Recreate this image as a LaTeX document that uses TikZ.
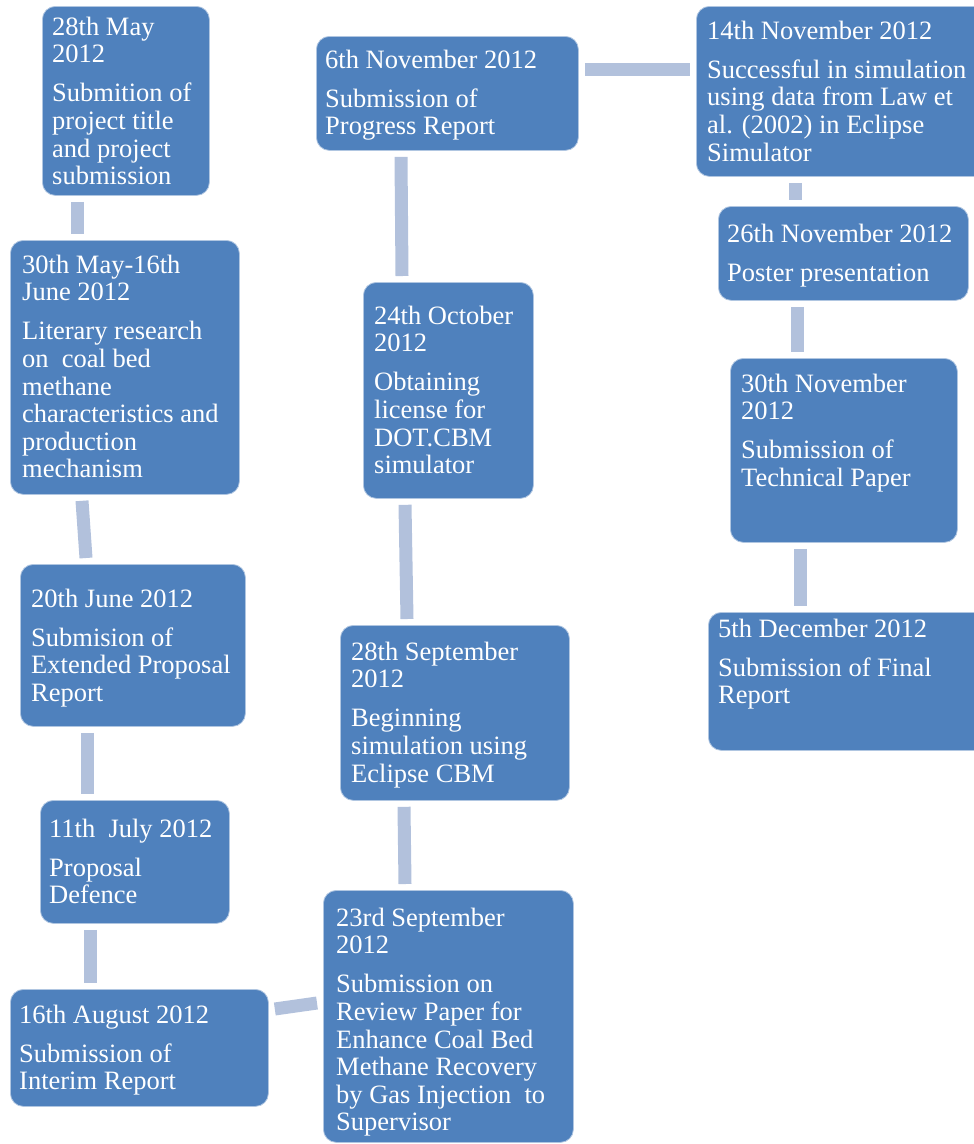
\documentclass[tikz,border=0pt]{standalone}
\usepackage{fontspec}
\setmainfont{Liberation Serif}
\definecolor{boxblue}{RGB}{79,129,189}
\definecolor{linkblue}{RGB}{178,193,220}

\begin{document}
\begin{tikzpicture}[x=1pt,y=-1pt,
  stage/.style={fill=boxblue, draw=white!55!boxblue, line width=0.8pt,
    rounded corners=13pt, anchor=north west, inner sep=0pt},
  stagetext/.style={anchor=north west, inner sep=0pt, align=left,
    text=white, font=\fontsize{26.5}{27.6}\selectfont},
  link/.style={draw=linkblue, line width=13pt}]
  \useasboundingbox (0,0) rectangle (974,1144);

  %Left column
  \node[stage, minimum width=167pt, minimum height=189pt] (may28) at (42,6) {};
  \node[stage, minimum width=229pt, minimum height=254pt] (jun16) at (10,240) {};
  \node[stage, minimum width=225pt, minimum height=162pt] (jun20) at (20,564) {};
  \node[stage, minimum width=189pt, minimum height=123pt] (jul11) at (40,800) {};
  \node[stage, minimum width=258pt, minimum height=117pt] (aug16) at (10,989) {};

  %Middle column
  \node[stage, minimum width=250pt, minimum height=252pt] (sep23) at (323,890) {};
  \node[stage, minimum width=229pt, minimum height=175pt] (sep28) at (340,625) {};
  \node[stage, minimum width=170pt, minimum height=216pt] (oct24) at (363,282) {};
  \node[stage, minimum width=262pt, minimum height=114pt] (nov6) at (316,36) {};

  %Right column
  \node[stage, minimum width=300pt, minimum height=170pt] (nov14) at (696,6) {};
  \node[stage, minimum width=250pt, minimum height=94pt] (nov26) at (718,206) {};
  \node[stage, minimum width=227pt, minimum height=184pt] (nov30) at (730,358) {};
  \node[stage, minimum width=300pt, minimum height=138pt] (dec5) at (708,612) {};

  %Texts
  \node[stagetext] (may28txt) at (52,15.7) {\strut 28th May\\2012\\[11.4pt]
    Submition of\\project title\\and project\\submission};
  \node[stagetext] (jun16txt) at (22,253.7) {\strut 30th May-16th\\June 2012\\[11.4pt]
    Literary research\\on\ \ coal bed\\methane\\characteristics and\\production\\mechanism};
  \node[stagetext] (jun20txt) at (31,587.7) {\strut 20th June 2012\\[11.4pt]
    Submision of\\Extended Proposal\\Report};
  \node[stagetext] (jul11txt) at (49,817.7) {\strut 11th\ \ July 2012\\[11.4pt]
    Proposal\\Defence};
  \node[stagetext] (aug16txt) at (19,1003.7) {\strut 16th August 2012\\[11.4pt]
    Submission of\\Interim Report};
  \node[stagetext] (sep23txt) at (336,906.7) {\strut 23rd September\\2012\\[11.4pt]
    Submission on\\Review Paper for\\Enhance Coal Bed\\Methane Recovery\\by Gas Injection\ \ to\\Supervisor};
  \node[stagetext] (sep28txt) at (351,640.7) {\strut 28th September\\2012\\[11.4pt]
    Beginning\\simulation using\\Eclipse CBM};
  \node[stagetext] (oct24txt) at (374,304.7) {\strut 24th October\\2012\\[11.4pt]
    Obtaining\\license for\\DOT.CBM\\simulator};
  \node[stagetext] (nov6txt) at (325,48.7) {\strut 6th November 2012\\[11.4pt]
    Submission of\\Progress Report};
  \node[stagetext] (nov14txt) at (707,19.7) {\strut 14th November 2012\\[11.4pt]
    Successful in simulation\\using data from Law et\\al. (2002) in Eclipse\\Simulator};
  \node[stagetext] (nov26txt) at (727,222.7) {\strut 26th November 2012\\[11.4pt]
    Poster presentation};
  \node[stagetext] (nov30txt) at (741,372.7) {\strut 30th November\\2012\\[11.4pt]
    Submission of\\Technical Paper};
  \node[stagetext] (dec5txt) at (718,617.7) {\strut 5th December 2012\\[11.4pt]
    Submission of Final\\Report};

  %Links
  \draw[link] ([shift={(35.5,6)}]may28.south west) -- ([shift={(67.5,-6)}]jun16.north west);
  \draw[link] ([shift={(72,6)}]jun16.south west) -- ([shift={(66,-6)}]jun20.north west);
  \draw[link] ([shift={(67,6)}]jun20.south west) -- ([shift={(47,-6)}]jul11.north west);
  \draw[link] ([shift={(50,6)}]jul11.south west) -- ([shift={(80,-6)}]aug16.north west);
  \draw[link] ([shift={(6,20)}]aug16.north east) -- ([shift={(-6,113)}]sep23.north west);
  \draw[link] ([shift={(82,-6)}]sep23.north west) -- ([shift={(64,6)}]sep28.south west);
  \draw[link] ([shift={(67,-6)}]sep28.north west) -- ([shift={(42,6)}]oct24.south west);
  \draw[link] ([shift={(39,-6)}]oct24.north west) -- ([shift={(85,6)}]nov6.south west);
  \draw[link] ([shift={(6,33)}]nov6.north east) -- ([shift={(-6,63)}]nov14.north west);
  \draw[link] ([shift={(99,6)}]nov14.south west) -- ([shift={(77,-6)}]nov26.north west);
  \draw[link] ([shift={(79,6)}]nov26.south west) -- ([shift={(67,-6)}]nov30.north west);
  \draw[link] ([shift={(70,6)}]nov30.south west) -- ([shift={(92,-6)}]dec5.north west);
\end{tikzpicture}
\end{document}
